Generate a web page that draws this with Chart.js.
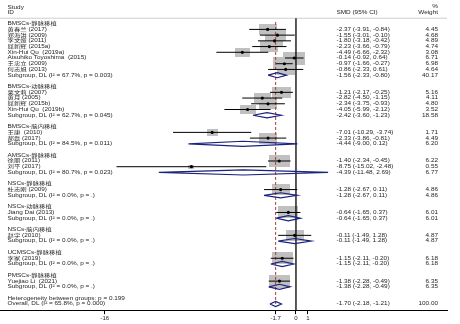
<!DOCTYPE html>
<html>
<head>
<meta charset="utf-8">
<script src="https://cdn.jsdelivr.net/npm/chart.js@4.4.1/dist/chart.umd.min.js"></script>
<style>
  html, body { margin: 0; padding: 0; background: #fff; }
  #wrap { width: 460px; height: 324px; }
</style>
</head>
<body>
<div id="wrap"><canvas id="forest" width="460" height="324"></canvas></div>
<script>
// subgroups
const groupNames = ['BMSCs-静脉移植', 'BMSCs-动脉移植', 'BMSCs-脑内移植', 'AMSCs-静脉移植',
  'NSCs-静脉移植', 'NSCs-动脉移植', 'NSCs-脑内移植', 'UCMSCs-静脉移植', 'PMSCs-静脉移植'];
const groupI2 = ['67.7', '62.7', '84.5', '80.7', '0.0', '0.0', '0.0', '0.0', '0.0'];
const groupP = ['0.003', '0.045', '0.011', '0.023', '.', '.', '.', '.', '.'];
const groupSMD = [-1.56, -2.42, -4.44, -4.39, -1.28, -0.64, -0.11, -1.15, -1.38];
const groupLow = [-2.33, -3.60, -9.00, -11.48, -2.67, -1.65, -1.49, -2.11, -2.28];
const groupHigh = [-0.80, -1.23, 0.12, 2.69, 0.11, 0.37, 1.28, -0.20, -0.49];
const groupWeight = [40.17, 18.58, 6.20, 6.77, 4.86, 6.01, 4.87, 6.18, 6.35];

// studies
const studyNames = ['黄春兰 (2017)', '郑海洪 (2009)', '李文娅 (2011)', '屈新辉 (2015a)',
  'Xin-Hui Qu  (2019a)', 'Atsuhiko Toyoshima  (2015)', '王忠立 (2009)', '何志旭 (2013)',
  '栗文莉 (2007)', '黄月 (2005)', '屈新辉 (2015b)', 'Xin-Hui Qu  (2019b)',
  '王康  (2010)', '郝磊 (2017)',
  '徐丽 (2011)', '刘平 (2017)',
  '杜志刚 (2009)', 'Jiang Dai (2013)', '赵宇 (2010)', '李家 (2019)', 'Yuejiao Li  (2021)'];
const studyGroup = [0, 0, 0, 0, 0, 0, 0, 0, 1, 1, 1, 1, 2, 2, 3, 3, 4, 5, 6, 7, 8];
const studySMD = [-2.37, -1.55, -1.80, -2.23, -4.49, -0.14, -0.97, -0.86,
  -1.21, -2.82, -2.34, -4.05, -7.01, -2.33, -1.40, -8.75, -1.28, -0.64, -0.11, -1.15, -1.38];
const studyLow = [-3.91, -3.01, -3.18, -3.66, -6.66, -0.92, -1.66, -2.33,
  -2.17, -4.50, -3.75, -5.99, -10.29, -3.86, -2.34, -15.02, -2.67, -1.65, -1.49, -2.11, -2.28];
const studyHigh = [-0.84, -0.10, -0.42, -0.79, -2.32, 0.64, -0.27, 0.61,
  -0.25, -1.15, -0.93, -2.12, -3.74, -0.81, -0.45, -2.48, 0.11, 0.37, 1.28, -0.20, -0.49];
const studyWeight = [4.45, 4.68, 4.89, 4.74, 3.08, 6.71, 6.98, 4.64,
  5.16, 4.11, 4.80, 3.52, 1.71, 4.49, 6.22, 0.55, 4.86, 6.01, 4.87, 6.18, 6.35];

// overall
const overallSMD = -1.70;
const overallLow = -2.18;
const overallHigh = -1.21;
const overallI2 = '65.8';
const overallP = '0.000';
const betweenP = '0.199';

const xTicks = [-16, -1.7, 0, 1];

// layout
const xMin = -24.77, xMax = 12.64;
const yMin = -4.14, yMax = 50.17;
const fontFamily = "'Liberation Sans', Arial, 'Noto Sans CJK SC', sans-serif";
const textSize = 6.4;
const textSquash = 0.8;
const boxW = 8.3, boxH = 5.0;
const diamondH = 0.45;

function fmt(v) { return v.toFixed(2); }
function ciText(e, l, h) { return fmt(e) + ' (' + fmt(l) + ', ' + fmt(h) + ')'; }

// build rows
const textRows = [];
const studyRow = [];
const groupRow = [];
let r = 0;
groupNames.forEach((g, gi) => {
  textRows.push({ row: r, label: g });
  r++;
  studyNames.forEach((s, si) => {
    if (studyGroup[si] !== gi) return;
    studyRow[si] = r;
    textRows.push({ row: r, label: s, ci: ciText(studySMD[si], studyLow[si], studyHigh[si]), w: fmt(studyWeight[si]) });
    r++;
  });
  groupRow[gi] = r;
  textRows.push({ row: r, label: 'Subgroup, DL (I² = ' + groupI2[gi] + '%, p = ' + groupP[gi] + ')',
    ci: ciText(groupSMD[gi], groupLow[gi], groupHigh[gi]), w: fmt(groupWeight[gi]) });
  r += 2;
});
const hetRow = r;
const overallRow = r + 1;
textRows.push({ row: hetRow, label: 'Heterogeneity between groups: p = ' + betweenP });
textRows.push({ row: overallRow, label: 'Overall, DL (I² = ' + overallI2 + '%, p = ' + overallP + ')',
  ci: ciText(overallSMD, overallLow, overallHigh), w: fmt(100) });

// marks
const boxes = studySMD.map((v, i) => ({ x: v, y: studyRow[i] }));
const ciLines = [];
studySMD.forEach((v, i) => {
  ciLines.push({ x: studyLow[i], y: studyRow[i] }, { x: studyHigh[i], y: studyRow[i] }, { x: null, y: null });
});
const diamonds = [];
function addDiamond(e, l, h, row) {
  diamonds.push({ x: l, y: row }, { x: e, y: row - diamondH }, { x: h, y: row },
    { x: e, y: row + diamondH }, { x: l, y: row }, { x: null, y: null });
}
groupSMD.forEach((v, gi) => addDiamond(v, groupLow[gi], groupHigh[gi], groupRow[gi]));
addDiamond(overallSMD, overallLow, overallHigh, overallRow);

function makeBox(w) {
  const c = document.createElement('canvas');
  c.width = Math.max(1, Math.round(boxW * Math.sqrt(w)));
  c.height = Math.max(1, Math.round(boxH * Math.sqrt(w)));
  const g = c.getContext('2d');
  g.fillStyle = 'rgb(192,192,192)';
  g.fillRect(0, 0, c.width, c.height);
  return c;
}
const boxImgs = studyWeight.map(makeBox);

function drawText(ctx, str, x, y, align) {
  ctx.save();
  ctx.translate(x, y);
  ctx.scale(1, textSquash);
  ctx.textAlign = align;
  ctx.textBaseline = 'middle';
  ctx.fillText(str, 0, 0);
  ctx.restore();
}

const textPlugin = {
  id: 'forestText',
  beforeDatasetsDraw(chart) {
    const { ctx, chartArea, scales } = chart;
    const y = scales.y.getPixelForValue(-0.95);
    ctx.save();
    ctx.strokeStyle = '#cfcfcf';
    ctx.lineWidth = 1;
    ctx.beginPath();
    ctx.moveTo(chartArea.left, y);
    ctx.lineTo(chartArea.right, y);
    ctx.stroke();
    ctx.restore();
  },
  afterDraw(chart) {
    const { ctx, scales } = chart;
    const ys = scales.y;
    ctx.save();
    ctx.fillStyle = '#1e1e1e';
    ctx.font = textSize + 'px ' + fontFamily;
    drawText(ctx, 'Study', 7.5, ys.getPixelForValue(-2.8), 'left');
    drawText(ctx, 'ID', 7.5, ys.getPixelForValue(-1.95), 'left');
    drawText(ctx, 'SMD (95% CI)', 336.5, ys.getPixelForValue(-1.95), 'left');
    drawText(ctx, '%', 438, ys.getPixelForValue(-3.0), 'right');
    drawText(ctx, 'Weight', 438, ys.getPixelForValue(-1.95), 'right');
    textRows.forEach(t => {
      const y = ys.getPixelForValue(t.row);
      drawText(ctx, t.label, 7.5, y, 'left');
      if (t.ci) drawText(ctx, t.ci, 336.5, y, 'left');
      if (t.w) drawText(ctx, t.w, 438, y, 'right');
    });
    ctx.restore();
  }
};

new Chart(document.getElementById('forest'), {
  type: 'line',
  data: {
    datasets: [
      {
        type: 'line', data: diamonds, borderColor: '#1a237e', borderWidth: 1.2,
        pointRadius: 0, fill: false, spanGaps: false, order: 1
      },
      {
        type: 'scatter', data: boxes, pointRadius: 1.6, backgroundColor: '#000',
        borderWidth: 0, order: 2
      },
      {
        type: 'line', data: ciLines, borderColor: '#000', borderWidth: 1,
        pointRadius: 0, fill: false, spanGaps: false, order: 3
      },
      {
        type: 'line', data: [{ x: 0, y: -0.95 }, { x: 0, y: yMax }], borderColor: '#000',
        borderWidth: 1.3, pointRadius: 0, order: 4
      },
      {
        type: 'line', data: [{ x: overallSMD, y: -0.3 }, { x: overallSMD, y: overallRow }],
        borderColor: '#a83a3a', borderWidth: 1, borderDash: [3, 2], pointRadius: 0, order: 5
      },
      {
        type: 'scatter', data: boxes, pointStyle: ctx => boxImgs[ctx.dataIndex],
        pointRadius: 2, order: 6
      }
    ]
  },
  options: {
    responsive: false,
    animation: false,
    events: [],
    layout: { autoPadding: false, padding: { left: 0, right: 13, top: 0, bottom: 0 } },
    plugins: { legend: { display: false }, tooltip: { enabled: false } },
    scales: {
      x: {
        type: 'linear', min: xMin, max: xMax,
        afterBuildTicks: s => { s.ticks = xTicks.map(v => ({ value: v })); },
        afterFit: s => { s.height = 13.3; },
        grid: { drawOnChartArea: false, drawTicks: true, tickLength: 3.5, color: '#000' },
        border: { display: true, color: '#000', width: 1 },
        ticks: {
          autoSkip: false, maxRotation: 0, padding: 1, color: '#222',
          font: { size: 6, family: fontFamily },
          callback: v => String(v)
        }
      },
      y: { type: 'linear', reverse: true, min: yMin, max: yMax, display: false }
    }
  },
  plugins: [textPlugin]
});
</script>
</body>
</html>
